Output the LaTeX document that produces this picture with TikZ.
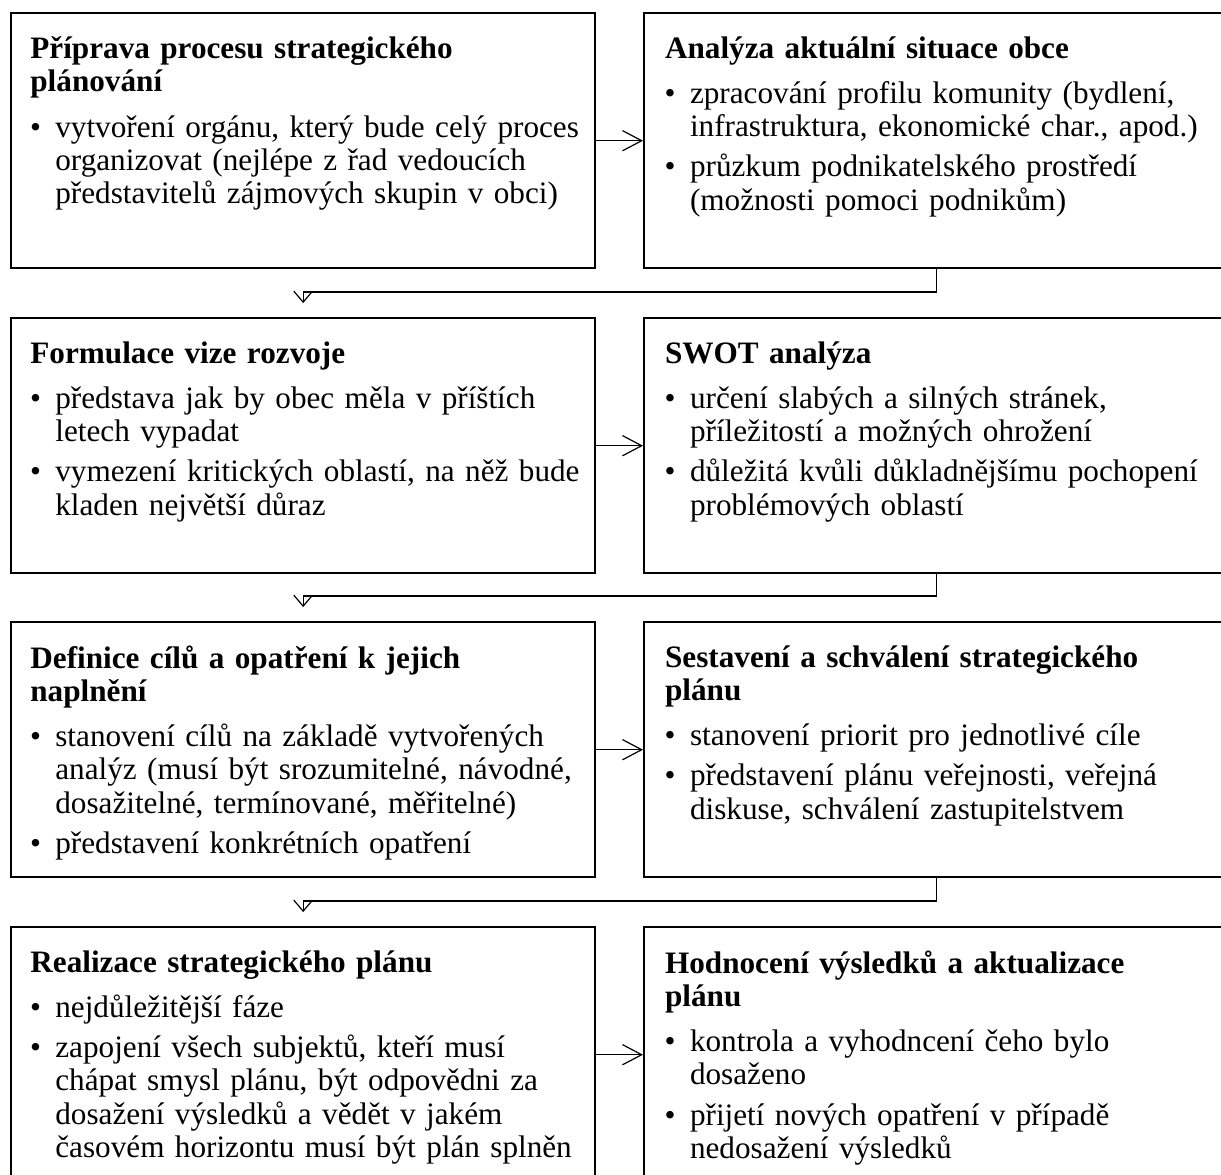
\documentclass[tikz,border=0pt]{standalone}
\usepackage{fontspec}
\setmainfont{Liberation Serif}
\usepackage{enumitem}
\usetikzlibrary{arrows.meta}

\setlist[itemize]{nosep, topsep=5.2pt, itemsep=2.9pt, leftmargin=10.4pt, labelsep=6pt, label=\textbullet}

\tikzset{
  box/.style={draw, line width=1pt, anchor=north west, inner sep=0pt,
    minimum width=243.3pt, minimum height=106.25pt},
  txt/.style={anchor=north west, inner sep=0pt, text width=240pt, align=left,
    font=\fontsize{13}{13.8}\selectfont},
  harrow/.style={-{Straight Barb[length=8pt,width=8.4pt]}, line width=0.5pt},
  varrow/.style={-{Straight Barb[length=4.6pt,width=7.8pt]}, line width=0.5pt}
}

\begin{document}
\begin{tikzpicture}[x=0.41667pt, y=-0.41667pt]

  \useasboundingbox (0,0) rectangle (1221,1174);
  \clip (0,0) rectangle (1221,1174);

  % first row
  \node[box] (prep) at (10,12) {};
  \node[box] (anal) at (643,12) {};
  \node[txt] (prept) at ([xshift=8.3pt,yshift=-10pt]prep.north west)
    {\textbf{Příprava procesu strategického\\ plánování}
     \begin{itemize}
       \item vytvoření orgánu, který bude celý proces\\ organizovat (nejlépe z řad vedoucích\\ představitelů zájmových skupin v obci)
     \end{itemize}};
  \node[txt] (analt) at ([xshift=9pt,yshift=-10pt]anal.north west)
    {\textbf{Analýza aktuální situace obce}
     \begin{itemize}
       \item zpracování profilu komunity (bydlení,\\ infrastruktura, ekonomické char., apod.)
       \item průzkum podnikatelského prostředí\\ (možnosti pomoci podnikům)
     \end{itemize}};

  % second row
  \node[box] (vize) at (10,317) {};
  \node[box] (swot) at (643,317) {};
  \node[txt] (vizet) at ([xshift=8.3pt,yshift=-10pt]vize.north west)
    {\textbf{Formulace vize rozvoje}
     \begin{itemize}
       \item představa jak by obec měla v příštích\\ letech vypadat
       \item vymezení kritických oblastí, na něž bude\\ kladen největší důraz
     \end{itemize}};
  \node[txt] (swott) at ([xshift=9pt,yshift=-10pt]swot.north west)
    {\textbf{SWOT analýza}
     \begin{itemize}
       \item určení slabých a silných stránek,\\ příležitostí a možných ohrožení
       \item důležitá kvůli důkladnějšímu pochopení\\ problémových oblastí
     \end{itemize}};

  % third row
  \node[box] (cile) at (10,621) {};
  \node[box] (plan) at (643,621) {};
  \node[txt] (cilet) at ([xshift=8.3pt,yshift=-10pt]cile.north west)
    {\textbf{Definice cílů a opatření k jejich\\ naplnění}
     \begin{itemize}
       \item stanovení cílů na základě vytvořených\\ analýz (musí být srozumitelné, návodné,\\ dosažitelné, termínované, měřitelné)
       \item představení konkrétních opatření
     \end{itemize}};
  \node[txt] (plant) at ([xshift=9pt,yshift=-10pt]plan.north west)
    {\textbf{Sestavení a schválení strategického\\ plánu}
     \begin{itemize}
       \item stanovení priorit pro jednotlivé cíle
       \item představení plánu veřejnosti, veřejná\\ diskuse, schválení zastupitelstvem
     \end{itemize}};

  % fourth row
  \node[box] (real) at (10,926) {};
  \node[box] (hodn) at (643,926) {};
  \node[txt] (realt) at ([xshift=8.3pt,yshift=-10pt]real.north west)
    {\textbf{Realizace strategického plánu}
     \begin{itemize}
       \item nejdůležitější fáze
       \item zapojení všech subjektů, kteří musí\\ chápat smysl plánu, být odpovědni za\\ dosažení výsledků a vědět v jakém\\ časovém horizontu musí být plán splněn
     \end{itemize}};
  \node[txt] (hodnt) at ([xshift=9pt,yshift=-10pt]hodn.north west)
    {\textbf{Hodnocení výsledků a aktualizace\\ plánu}
     \begin{itemize}
       \item kontrola a vyhodncení čeho bylo\\ dosaženo
       \item přijetí nových opatření v případě\\ nedosažení výsledků
     \end{itemize}};

  % arrows across
  \draw[harrow] (prep.east) -- (anal.west);
  \draw[harrow] (vize.east) -- (swot.west);
  \draw[harrow] (cile.east) -- (plan.west);
  \draw[harrow] (real.east) -- (hodn.west);

  % arrows down to the next row
  \draw[varrow] (anal.south) |- ([yshift=10.4pt]vize.north) -- ([yshift=5.8pt]vize.north);
  \draw[varrow] (swot.south) |- ([yshift=10.4pt]cile.north) -- ([yshift=5.8pt]cile.north);
  \draw[varrow] (plan.south) |- ([yshift=10.4pt]real.north) -- ([yshift=5.8pt]real.north);

\end{tikzpicture}
\end{document}
